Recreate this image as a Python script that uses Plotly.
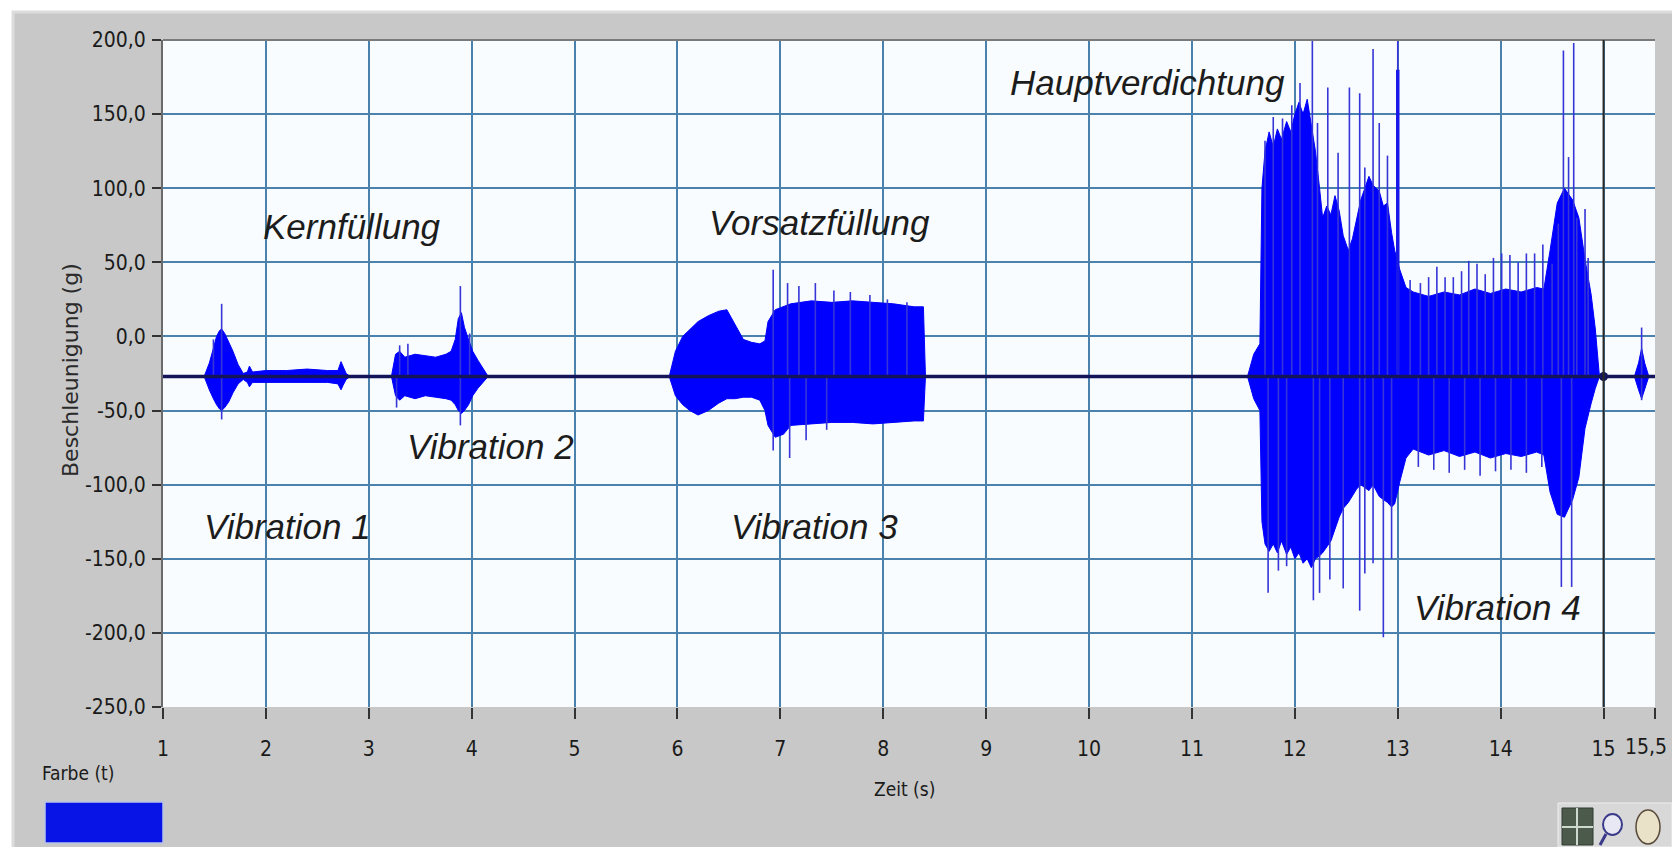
import plotly.graph_objects as go

# ---------------- data ----------------
baseline_g = -27.0

# Vibration 1 + Kernfüllung noise
seg1_t  = [1.40, 1.45, 1.49, 1.52, 1.55, 1.57, 1.60, 1.64, 1.68, 1.73, 1.78, 1.82, 1.84, 1.87, 2.00, 2.20, 2.40, 2.60, 2.70, 2.73, 2.75, 2.78, 2.82]
seg1_up = [-27, -18, -8, 0, 4, 5, 2, -4, -10, -19, -25, -24, -20, -24, -23, -23, -22, -23, -23, -17, -20, -25, -27]
seg1_lo = [-27, -36, -42, -46, -49, -50, -48, -44, -38, -32, -29, -31, -34, -31, -31, -31, -31, -31, -32, -36, -33, -29, -27]

# Vibration 2
seg2_t  = [3.22, 3.26, 3.30, 3.35, 3.45, 3.55, 3.65, 3.75, 3.80, 3.84, 3.87, 3.90, 3.93, 3.97, 4.01, 4.06, 4.11, 4.16]
seg2_up = [-27, -12, -10, -14, -12, -13, -14, -12, -10, -2, 12, 16, 6, -2, -10, -16, -22, -27]
seg2_lo = [-27, -40, -43, -40, -42, -40, -41, -42, -43, -46, -50, -52, -50, -46, -40, -35, -31, -27]

# Vorsatzfüllung / Vibration 3
seg3_t  = [5.92, 5.98, 6.05, 6.12, 6.20, 6.30, 6.40, 6.48, 6.56, 6.64, 6.72, 6.80, 6.85, 6.88, 6.95, 7.03, 7.10, 7.30, 7.50, 7.70, 7.90, 8.10, 8.30, 8.39, 8.41]
seg3_up = [-27, -10, 0, 5, 10, 14, 17, 18, 8, -2, -4, -5, -3, 10, 18, 20, 22, 24, 23, 24, 23, 22, 20, 20, -27]
seg3_lo = [-27, -40, -46, -50, -53, -50, -45, -42, -42, -41, -41, -43, -50, -60, -68, -66, -60, -59, -58, -58, -59, -58, -57, -57, -27]

# Hauptverdichtung / Vibration 4
seg4_t  = [11.54, 11.60, 11.66, 11.68, 11.71, 11.75, 11.79, 11.83, 11.87, 11.92, 11.96, 12.00, 12.04, 12.08, 12.12, 12.16, 12.20, 12.24,
           12.27, 12.31, 12.35, 12.39, 12.43, 12.47, 12.52, 12.56, 12.60, 12.64, 12.68, 12.72, 12.76, 12.82, 12.86, 12.90, 12.94, 12.97,
           13.02, 13.08, 13.15, 13.30, 13.45, 13.60, 13.75, 13.90, 14.05, 14.20, 14.35, 14.42, 14.48, 14.55, 14.62, 14.70, 14.76, 14.82,
           14.88, 14.92, 14.96]
seg4_up = [-27, -12, -5, 100, 125, 138, 128, 140, 133, 145, 138, 150, 158, 150, 160, 142, 125, 100,
           80, 88, 82, 95, 85, 68, 58, 66, 78, 92, 100, 108, 102, 98, 88, 90, 70, 58,
           45, 33, 30, 27, 30, 28, 32, 29, 32, 30, 33, 32, 58, 90, 100, 92, 80, 52,
           28, 5, -27]
seg4_lo = [-27, -42, -50, -125, -140, -145, -140, -146, -138, -147, -142, -150, -146, -153, -150, -156, -150, -148,
           -146, -142, -138, -130, -122, -116, -112, -108, -103, -100, -102, -104, -100, -108, -110, -112, -115, -113,
           -98, -82, -76, -80, -77, -81, -78, -82, -79, -81, -78, -80, -105, -120, -122, -110, -95, -62,
           -45, -35, -27]

# small event near the end
seg5_t  = [15.30, 15.34, 15.37, 15.40, 15.44]
seg5_up = [-27, -18, -8, -18, -27]
seg5_lo = [-27, -36, -42, -36, -27]

# isolated spikes (time, peak value)
spike_up_t = [1.49, 1.57, 3.30, 3.38, 3.89, 3.98,
              6.93, 7.07, 7.18, 7.34, 7.52, 7.68, 7.87, 8.04, 8.23,
              11.71, 11.79, 11.88, 11.97, 12.05, 12.17, 12.22, 12.32, 12.42, 12.53, 12.63, 12.68, 12.76, 12.82, 12.90, 13.00,
              13.12, 13.22, 13.30, 13.38, 13.46, 13.54, 13.62, 13.69, 13.77, 13.85, 13.93, 14.01, 14.09, 14.17, 14.25, 14.33, 14.41, 14.50,
              14.56, 14.61, 14.66, 14.71, 14.74, 14.82, 14.85, 15.37]
spike_up_v = [-2, 22, -6, -5, 34, 2,
              45, 36, 34, 36, 31, 30, 28, 25, 23,
              132, 148, 147, 156, 171, 200, 144, 168, 124, 168, 164, 114, 194, 144, 122, 200,
              38, 36, 40, 47, 40, 40, 44, 51, 49, 42, 53, 56, 55, 50, 56, 56, 62, 49,
              76, 193, 121, 198, 80, 86, 53, 6]
spike_dn_t = [1.57, 3.27, 3.89,
              6.93, 7.09, 7.25, 7.45,
              11.74, 11.84, 11.92, 12.18, 12.24, 12.34, 12.47, 12.63, 12.68, 12.76, 12.86, 12.94,
              13.20, 13.35, 13.50, 13.65, 13.80, 13.95, 14.10, 14.25, 14.40, 14.59, 14.69, 15.37]
spike_dn_v = [-56, -48, -60,
              -77, -82, -70, -63,
              -173, -158, -155, -178, -173, -164, -170, -185, -160, -153, -203, -150,
              -88, -90, -92, -90, -94, -91, -90, -92, -88, -169, -169, -43]

# thick spike at 13 s (time, top)
thick_spike_t = [13.00]
thick_spike_v = [180]

cursor_t = 15.0

x_tick_vals = [1, 2, 3, 4, 5, 6, 7, 8, 9, 10, 11, 12, 13, 14, 15, 15.5]
x_tick_text = ["1", "2", "3", "4", "5", "6", "7", "8", "9", "10", "11", "12", "13", "14", "15", "15,5"]
y_tick_vals = [200, 150, 100, 50, 0, -50, -100, -150, -200, -250]
y_tick_text = ["200,0", "150,0", "100,0", "50,0", "0,0", "-50,0", "-100,0", "-150,0", "-200,0", "-250,0"]

labels_text = ["Kernfüllung", "Vorsatzfüllung", "Hauptverdichtung", "Vibration 1", "Vibration 2", "Vibration 3", "Vibration 4"]
labels_t    = [2.84, 7.38, 10.57, 2.21, 4.18, 7.33, 13.97]
labels_v    = [74, 77, 171, -128, -74, -128, -183]

# ---------------- figure ----------------
W, H = 1672, 847
ML, MR, MT, MB = 163, 17, 40, 140
PW, PH = W - ML - MR, H - MT - MB

def px(xp):
    return (xp - ML) / PW

def py(yp):
    return (H - MB - yp) / PH

BLUE = "#0000FF"
fig = go.Figure()

for t, up, lo in [(seg1_t, seg1_up, seg1_lo), (seg2_t, seg2_up, seg2_lo), (seg3_t, seg3_up, seg3_lo),
                  (seg4_t, seg4_up, seg4_lo), (seg5_t, seg5_up, seg5_lo)]:
    fig.add_trace(go.Scatter(x=list(t) + list(reversed(t)), y=list(up) + list(reversed(lo)),
                             fill="toself", fillcolor=BLUE, mode="lines",
                             line=dict(color=BLUE, width=1), hoverinfo="skip", showlegend=False))

sx, sy = [], []
for t, v in zip(spike_up_t, spike_up_v):
    sx += [t, t, None]
    sy += [baseline_g, v, None]
for t, v in zip(spike_dn_t, spike_dn_v):
    sx += [t, t, None]
    sy += [baseline_g, v, None]
fig.add_trace(go.Scatter(x=sx, y=sy, mode="lines", line=dict(color="#3535d8", width=1.6),
                         hoverinfo="skip", showlegend=False))

tx, ty = [], []
for t, v in zip(thick_spike_t, thick_spike_v):
    tx += [t, t, None]
    ty += [baseline_g, v, None]
fig.add_trace(go.Scatter(x=tx, y=ty, mode="lines", line=dict(color="#1818e8", width=3.5),
                         hoverinfo="skip", showlegend=False))

fig.add_trace(go.Scatter(x=[x_tick_vals[0], x_tick_vals[-1]], y=[baseline_g, baseline_g], mode="lines",
                         line=dict(color="#14145a", width=3.5), hoverinfo="skip", showlegend=False))
fig.add_trace(go.Scatter(x=[cursor_t], y=[baseline_g], mode="markers",
                         marker=dict(color="#14145a", size=9), hoverinfo="skip", showlegend=False))

tickfont = dict(family="DejaVu Sans Condensed, Liberation Sans Narrow, sans-serif", size=21, color="#1a1a1a")

# last tick label sits at the window edge: shown as a right-aligned text instead
shown_x_text = x_tick_text[:-1] + [""]

fig.update_xaxes(range=[1, 15.5], tickmode="array", tickvals=x_tick_vals, ticktext=shown_x_text,
                 showgrid=True, gridcolor="#4a82ad", gridwidth=1.5, zeroline=False,
                 ticks="outside", ticklen=11, tickwidth=1.5, tickcolor="#333333", automargin=False,
                 ticklabelstandoff=12, ticklabeloverflow="allow", tickfont=tickfont, showline=False)
fig.update_yaxes(range=[-250, 200], tickmode="array", tickvals=y_tick_vals, ticktext=y_tick_text,
                 showgrid=True, gridcolor="#4a82ad", gridwidth=1.5, zeroline=False,
                 ticks="outside", ticklen=9, tickwidth=1.5, tickcolor="#333333", automargin=False,
                 ticklabelstandoff=2, ticklabeloverflow="allow", tickfont=tickfont,
                 showline=True, linecolor="#6a6a6a", linewidth=2)

shapes = [
    # white outside strips
    dict(type="rect", xref="paper", yref="paper", x0=px(0), x1=px(W), y0=py(12), y1=py(0),
         fillcolor="white", line_width=0, layer="below"),
    dict(type="rect", xref="paper", yref="paper", x0=px(0), x1=px(13), y0=py(H), y1=py(0),
         fillcolor="white", line_width=0, layer="below"),
    # panel bevel
    dict(type="rect", xref="paper", yref="paper", x0=px(13), x1=px(W + 5), y0=py(H + 5), y1=py(12),
         fillcolor="rgba(0,0,0,0)", line=dict(color="#dcdcdc", width=3), layer="below"),
    # plot frame top
    dict(type="line", xref="paper", yref="paper", x0=0, x1=1, y0=1, y1=1, line=dict(color="#7a7a7a", width=2)),
    # cursor
    dict(type="line", xref="x", yref="paper", x0=cursor_t, x1=cursor_t, y0=0, y1=1,
         line=dict(color="#2a2a2a", width=2)),
    # legend colour swatch
    dict(type="rect", xref="paper", yref="paper", x0=px(45), x1=px(163), y0=py(843), y1=py(802),
         fillcolor="#0814e6", line=dict(color="#b8c4e8", width=1.5)),
    # tool icons
    dict(type="rect", xref="paper", yref="paper", x0=px(1558), x1=px(1672), y0=py(847), y1=py(803),
         fillcolor="#d8d8d8", line=dict(color="#eeeeee", width=1)),
    dict(type="rect", xref="paper", yref="paper", x0=px(1562), x1=px(1593), y0=py(845), y1=py(808),
         fillcolor="#4c5a4c", line=dict(color="#2f3a2f", width=1)),
    dict(type="line", xref="paper", yref="paper", x0=px(1577), x1=px(1577), y0=py(845), y1=py(808),
         line=dict(color="#cfd8cf", width=2)),
    dict(type="line", xref="paper", yref="paper", x0=px(1562), x1=px(1593), y0=py(827), y1=py(827),
         line=dict(color="#cfd8cf", width=2)),
    dict(type="circle", xref="paper", yref="paper", x0=px(1603), x1=px(1622), y0=py(835), y1=py(814),
         fillcolor="#e8e8f4", line=dict(color="#3a3a8a", width=2)),
    dict(type="line", xref="paper", yref="paper", x0=px(1600), x1=px(1606), y0=py(845), y1=py(834),
         line=dict(color="#3a3a8a", width=3)),
    dict(type="circle", xref="paper", yref="paper", x0=px(1636), x1=px(1660), y0=py(844), y1=py(810),
         fillcolor="#e9e2c8", line=dict(color="#5a4a3a", width=1.5)),
]

annotations = []
for txt, t, v in zip(labels_text, labels_t, labels_v):
    annotations.append(dict(x=t, y=v, xref="x", yref="y", text="<i>" + txt + "</i>", showarrow=False,
                            font=dict(family="Liberation Sans, Arial, sans-serif", size=35, color="#1c1c1c"),
                            xanchor="center", yanchor="middle"))
annotations += [
    dict(x=px(1669), y=py(747), xref="paper", yref="paper", text=x_tick_text[-1], showarrow=False,
         font=tickfont, xanchor="right", yanchor="middle"),
    dict(x=px(71), y=py(370), xref="paper", yref="paper", text="Beschleunigung (g)", textangle=-90,
         showarrow=False, font=dict(family="DejaVu Sans, sans-serif", size=22, color="#2a2a2a"),
         xanchor="center", yanchor="middle"),
    dict(x=px(904), y=py(789), xref="paper", yref="paper", text="Zeit (s)", showarrow=False,
         font=dict(family="DejaVu Sans Condensed, sans-serif", size=19, color="#1a1a1a"),
         xanchor="center", yanchor="middle"),
    dict(x=px(40), y=py(773), xref="paper", yref="paper", text="Farbe (t)", showarrow=False,
         font=dict(family="DejaVu Sans Condensed, sans-serif", size=19, color="#1a1a1a"),
         xanchor="left", yanchor="middle"),
]

fig.update_layout(width=W, height=H, margin=dict(l=ML, r=MR, t=MT, b=MB, pad=0, autoexpand=False),
                  paper_bgcolor="#c8c8c8", plot_bgcolor="#f9fcfe",
                  shapes=shapes, annotations=annotations, showlegend=False)

fig.write_html("out.html", config={"displayModeBar": False},
               post_script="document.body.style.margin='0px';document.body.style.overflow='hidden';")
